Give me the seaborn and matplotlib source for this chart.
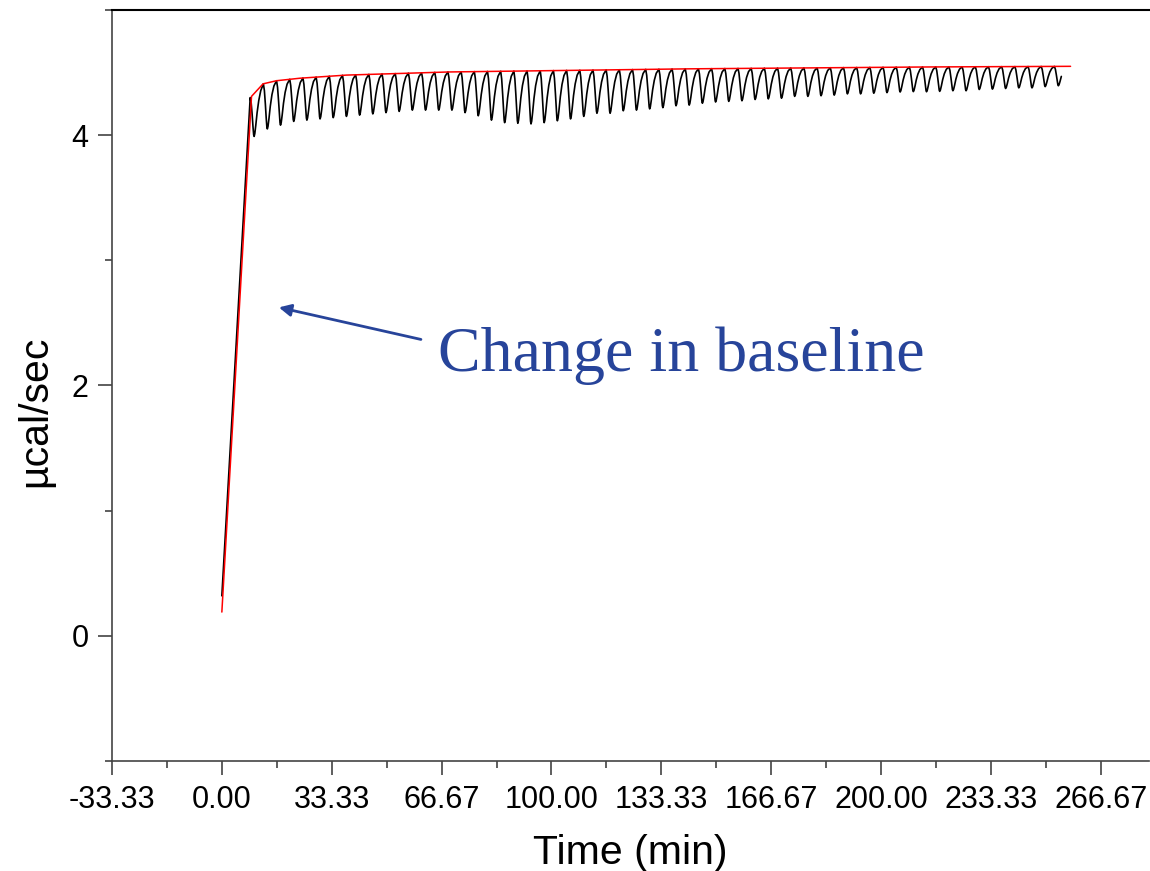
import numpy as np
import pandas as pd
import matplotlib
matplotlib.use("Agg")
import matplotlib.pyplot as plt
import seaborn as sns

# ---- axis ticks -------------------------------------------------------------
x_major = [-33.33, 0.0, 33.33, 66.67, 100.0, 133.33, 166.67, 200.0, 233.33, 266.67]
x_major_labels = ["-33.33", "0.00", "33.33", "66.67", "100.00", "133.33",
                  "166.67", "200.00", "233.33", "266.67"]
x_minor = [-16.67, 16.67, 50.0, 83.33, 116.67, 150.0, 183.33, 216.67, 250.0]
y_major = [0, 2, 4]
y_major_labels = ["0", "2", "4"]
y_minor = [-1, 1, 3, 5]

# ---- raw thermogram (black): start of run and the upper envelope ----------
raw_top_time = [0.0, 8.6, 12.5, 16.6, 23.7, 37.8, 69.0, 142.0, 215.0, 257.5]
raw_top_power = [0.32, 4.30, 4.41, 4.435, 4.455, 4.48, 4.505, 4.53, 4.545, 4.55]

# injection peaks: time of each peak minimum (min) and its minimum power (µcal/sec)
peak_time = [9.8, 13.8, 17.8, 21.8, 25.8, 29.8, 33.8, 37.8, 41.8, 45.8,
             49.8, 53.8, 57.8, 61.8, 65.8, 69.8, 73.8, 77.8, 81.8, 85.8,
             89.8, 93.8, 97.8, 101.8, 105.8, 109.8, 113.8, 117.8, 121.8, 125.8,
             129.8, 133.8, 137.8, 141.8, 145.8, 149.8, 153.8, 157.8, 161.8, 165.8,
             169.8, 173.8, 177.8, 181.8, 185.8, 189.8, 193.8, 197.8, 201.8, 205.8,
             209.8, 213.8, 217.8, 221.8, 225.8, 229.8, 233.8, 237.8, 241.8, 245.8,
             249.8, 253.8]
peak_min = [3.99, 4.05, 4.08, 4.11, 4.12, 4.13, 4.14, 4.15, 4.16, 4.17,
            4.18, 4.19, 4.20, 4.20, 4.20, 4.20, 4.18, 4.155, 4.12, 4.10,
            4.095, 4.09, 4.10, 4.115, 4.13, 4.15, 4.175, 4.175, 4.195, 4.20,
            4.21, 4.22, 4.235, 4.24, 4.255, 4.265, 4.27, 4.275, 4.285, 4.29,
            4.295, 4.31, 4.31, 4.315, 4.32, 4.33, 4.33, 4.335, 4.34, 4.345,
            4.348, 4.347, 4.35, 4.355, 4.355, 4.365, 4.368, 4.373, 4.378, 4.378,
            4.388, 4.395]
raw_end_time = 255.2

# shape of a single injection peak: offset from its minimum (min) and depth fraction
peak_offset = [-1.2, -0.9, -0.6, -0.35, -0.15, 0.0, 0.2, 0.5, 0.9, 1.4, 2.0, 2.8]
peak_fraction = [0.0, 0.15, 0.45, 0.75, 0.95, 1.0, 0.95, 0.78, 0.52, 0.28, 0.10, 0.0]

# ---- fitted baseline (red) --------------------------------------------------
base_time = [0.0, 9.0, 12.5, 16.6, 23.7, 37.8, 69.0, 142.0, 215.0, 257.5]
base_power = [0.19, 4.31, 4.41, 4.435, 4.455, 4.48, 4.505, 4.53, 4.545, 4.55]

# build the raw trace point by point from the envelope and the peak minima
trace_t = [raw_top_time[0]]
trace_p = [raw_top_power[0]]
for tk, mk in zip(peak_time, peak_min):
    depth = np.interp(tk, raw_top_time, raw_top_power) - mk
    for off, frac in zip(peak_offset, peak_fraction):
        t = tk + off
        if t > raw_end_time:
            break
        trace_t.append(t)
        trace_p.append(np.interp(t, raw_top_time, raw_top_power) - depth * frac)

raw_df = pd.DataFrame({"time": trace_t, "power": trace_p})
base_df = pd.DataFrame({"time": base_time, "power": base_power})

# ---- figure -----------------------------------------------------------------
sns.set_theme(style="ticks")
plt.rcParams["font.family"] = ["Liberation Sans", "DejaVu Sans"]

fig = plt.figure(figsize=(11.5, 8.71), dpi=100)
ax = fig.add_axes([112 / 1150, 110 / 871, 1037 / 1150, 751 / 871])

sns.lineplot(data=raw_df, x="time", y="power", sort=False, estimator=None,
             color="black", linewidth=1.2, ax=ax)
sns.lineplot(data=base_df, x="time", y="power", sort=False, estimator=None,
             color="#ff0000", linewidth=1.1, ax=ax)

ax.set_xlim(-33.33, 281.3)
ax.set_ylim(-1, 5)

ax.set_xticks(x_major)
ax.set_xticklabels(x_major_labels)
ax.set_xticks(x_minor, minor=True)
ax.set_yticks(y_major)
ax.set_yticklabels(y_major_labels)
ax.set_yticks(y_minor, minor=True)

ax.tick_params(axis="both", which="major", direction="out", length=10,
               width=1.1, color="#333333", labelsize=22, pad=7,
               labelcolor="black")
ax.tick_params(axis="both", which="minor", direction="out", length=5,
               width=1.1, color="#333333")

for side in ("left", "bottom"):
    ax.spines[side].set_color("#444444")
    ax.spines[side].set_linewidth(1.2)
ax.spines["top"].set_color("black")
ax.spines["top"].set_linewidth(1.5)
ax.spines["right"].set_visible(False)

ax.set_xlabel("Time (min)", fontsize=29.5, labelpad=14, color="black")
ax.set_ylabel("µcal/sec", fontsize=29.5, labelpad=12, color="black")
ax.yaxis.label.set_y(0.466)

# annotation
note_color = "#27449a"
ax.annotate("", xy=(17.3, 2.624), xytext=(60.4, 2.368),
            arrowprops=dict(arrowstyle="-|>", color=note_color, lw=2.0,
                            mutation_scale=18, shrinkA=0, shrinkB=0))
ax.text(65.6, 2.112, "Change in baseline", fontsize=46,
        family=["Liberation Serif", "DejaVu Serif"], color=note_color,
        ha="left", va="baseline")

fig.savefig("out.png", dpi=100)
